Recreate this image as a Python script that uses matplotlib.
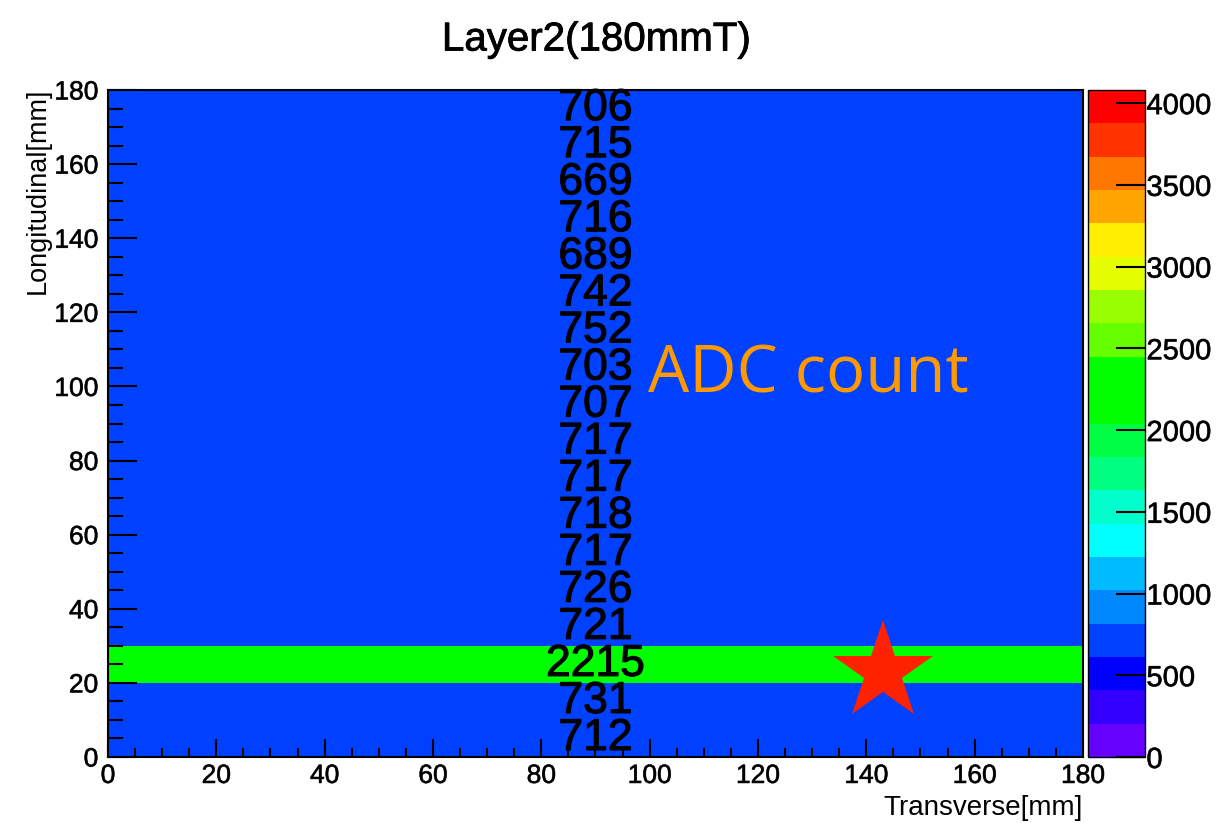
import numpy as np
import matplotlib
matplotlib.use("Agg")
import matplotlib.pyplot as plt
import matplotlib.patheffects as pe
from matplotlib.colors import ListedColormap, BoundaryNorm
from matplotlib.ticker import MultipleLocator

# strip readout, bottom (0-10 mm) to top (170-180 mm)
y_edges = np.arange(0, 190, 10)
x_edges = [0, 180]
adc = [712, 731, 2215, 721, 726, 717, 718, 717, 717,
       707, 703, 752, 742, 689, 716, 669, 715, 706]

# 20-step rainbow palette, low to high
palette = ['#6600ff', '#3300ff', '#0000ff', '#0040ff', '#0088ff',
           '#00bbff', '#00ffff', '#00ffcc', '#00ff80', '#00ff44',
           '#00ff00', '#00ff00', '#66ff00', '#99ff00', '#e5ff00',
           '#ffee00', '#ffa500', '#ff7700', '#ff3300', '#ff0000']
zmax = 4080
cbar_ticks = np.arange(0, 4001, 500)

hit_x, hit_y = 143, 23

plt.rcParams['font.family'] = ['Liberation Sans', 'DejaVu Sans']

fig = plt.figure(figsize=(12.27, 8.23), dpi=100)
ax = fig.add_axes([0.0880, 0.0802, 0.7946, 0.8104])
cax = fig.add_axes([0.8867, 0.0802, 0.0465, 0.8104])

cmap = ListedColormap(palette)
norm = BoundaryNorm(np.linspace(0, zmax, len(palette) + 1), cmap.N)
z = np.array(adc, dtype=float).reshape(-1, 1)
mesh = ax.pcolormesh(x_edges, y_edges, z, cmap=cmap, norm=norm)

# slightly heavier strokes for the ROOT-like text
heavy = [pe.withStroke(linewidth=0.8, foreground='black')]
soft = [pe.withStroke(linewidth=0.5, foreground='#333333')]

# bin contents written at the bin centres
xc = 0.5 * (x_edges[0] + x_edges[1])
for yc, v in zip(0.5 * (y_edges[:-1] + y_edges[1:]), adc):
    ax.text(xc, yc, str(v), ha='center', va='center', fontsize=32,
            color='black', path_effects=heavy)

ax.plot(hit_x, hit_y, marker='*', markersize=75, color='#ff2200',
        markeredgewidth=0, linestyle='none')
ax.text(99.7, 98.5, 'ADC count', ha='left', va='baseline', fontsize=47,
        color='#ff9900', family=['Open Sans', 'DejaVu Sans'])

ax.set_xlim(0, 180)
ax.set_ylim(0, 180)
ax.xaxis.set_major_locator(MultipleLocator(20))
ax.xaxis.set_minor_locator(MultipleLocator(5))
ax.yaxis.set_major_locator(MultipleLocator(20))
ax.yaxis.set_minor_locator(MultipleLocator(5))
ax.tick_params(axis='x', which='major', direction='in', length=13, width=1.5,
               labelsize=19, pad=5)
ax.tick_params(axis='x', which='minor', direction='in', length=6.5, width=1.5)
ax.tick_params(axis='y', which='major', direction='in', length=21, width=1.5,
               labelsize=19, pad=7)
ax.tick_params(axis='y', which='minor', direction='in', length=10.5, width=1.5)
for s in ax.spines.values():
    s.set_linewidth(1.5)
for lab in ax.get_xticklabels() + ax.get_yticklabels():
    lab.set_path_effects(soft)

ax.set_xlabel('Transverse[mm]', fontsize=20)
ax.xaxis.set_label_coords(1.0, -0.057)
ax.xaxis.label.set_ha('right')
ax.set_ylabel('Longitudinal[mm]', fontsize=19.5)
ax.yaxis.set_label_coords(-0.072, 1.003)
ax.yaxis.label.set_va('center')
ax.yaxis.label.set_ha('right')

fig.text(0.486, 0.952, 'Layer2(180mmT)', ha='center', va='center', fontsize=29,
         path_effects=[pe.withStroke(linewidth=0.6, foreground='black')])

cb = fig.colorbar(mesh, cax=cax, ticks=cbar_ticks)
cb.outline.set_linewidth(1.0)
cb.ax.tick_params(direction='in', length=21, width=1.5, labelsize=21, pad=1)
cb.ax.minorticks_off()
for lab in cb.ax.get_yticklabels():
    lab.set_path_effects(soft)

fig.savefig('out.png', dpi=100)
